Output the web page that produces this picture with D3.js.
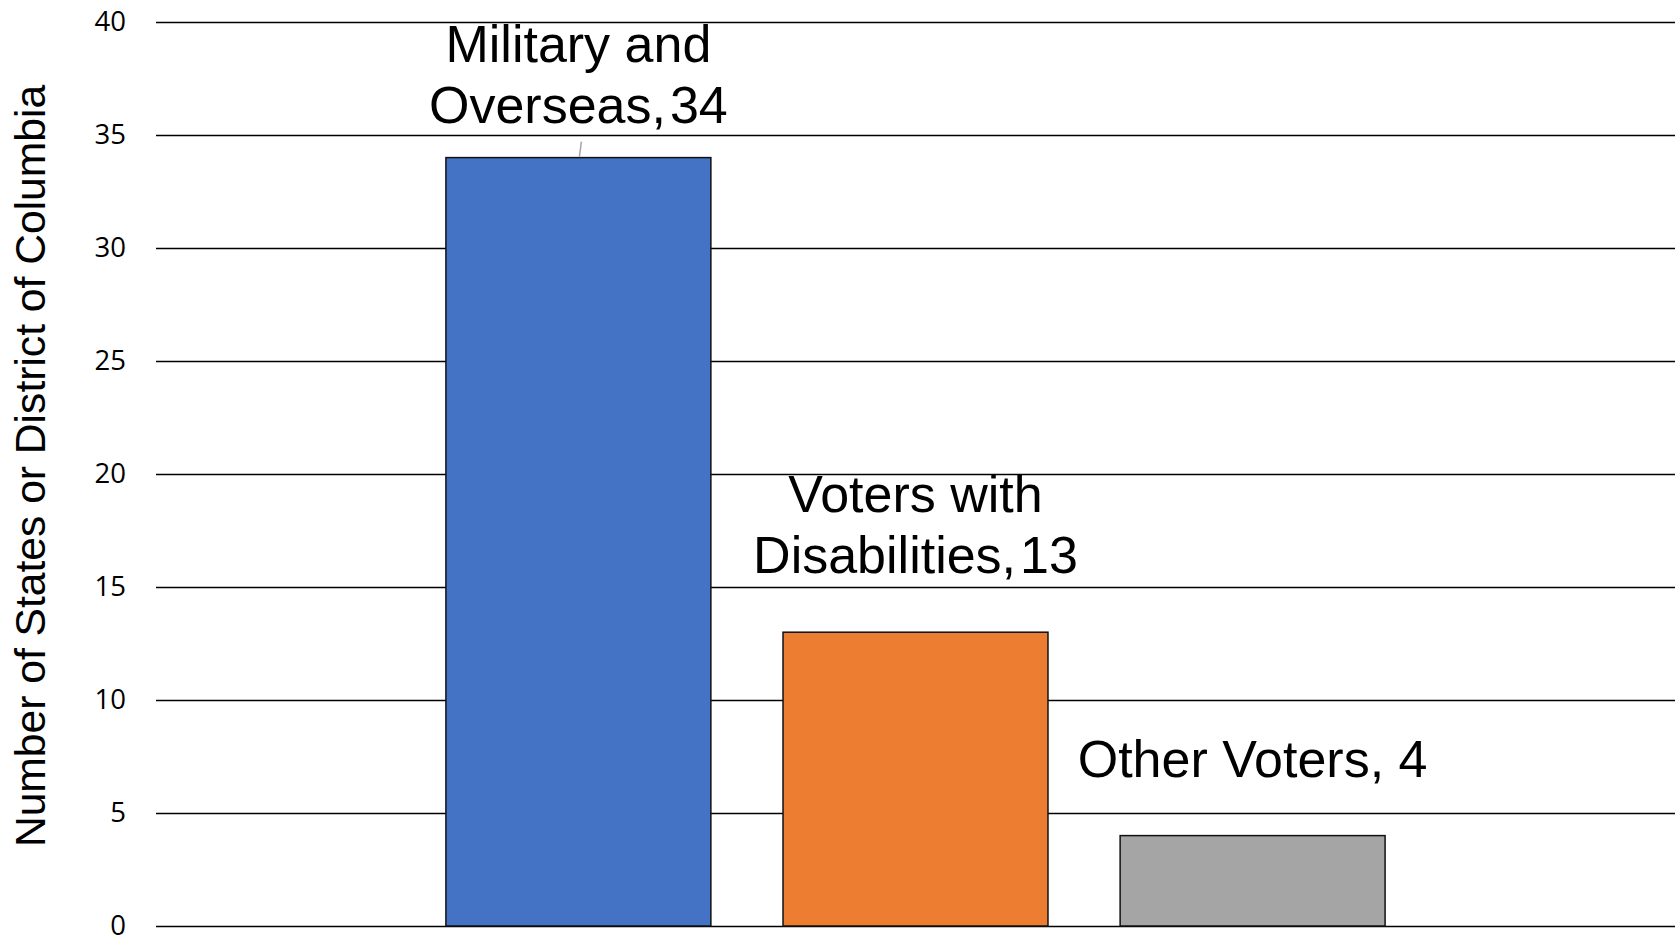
<!DOCTYPE html>
<html lang="en">
<head>
<meta charset="UTF-8">
<title>Number of States or District of Columbia</title>
<script src="https://d3js.org/d3.v7.min.js"></script>
<style>
  body { margin: 0; padding: 0; background: #fff; }
  svg { display: block; }
</style>
</head>
<body>
<div id="chart"></div>
<script>
// Data
const categories = ["Military and Overseas", "Voters with Disabilities", "Other Voters"];
const values = [34, 13, 4];
const labelLines = [["Military and", "Overseas,", "34"], ["Voters with", "Disabilities,", "13"], [null, "Other Voters,", " 4"]];
const colors = ["#4472C4", "#ED7D31", "#A5A5A5"];
const yTicks = [0, 5, 10, 15, 20, 25, 30, 35, 40];
const yTitle = "Number of States or District of Columbia";

// Layout: pixel gap between bar top and label baseline
const labelLift = [35, 59, 59];

const width = 1679, height = 937;
const margin = { top: 22, right: 4, bottom: 11, left: 156 };

const svg = d3.select("#chart").append("svg")
  .attr("width", width)
  .attr("height", height);

const x = d3.scaleBand()
  .domain(categories)
  .range([margin.left, width - margin.right])
  .paddingInner(0.214)
  .paddingOuter(0.86);

const y = d3.scaleLinear()
  .domain([0, 40])
  .range([height - margin.bottom, margin.top]);

// Gridlines + tick labels
const yAxis = d3.axisLeft(y)
  .tickValues(yTicks)
  .tickSize(-(width - margin.right - margin.left))
  .tickPadding(30)
  .tickFormat(d3.format("d"));

const ga = svg.append("g")
  .attr("transform", `translate(${margin.left},0)`)
  .call(yAxis);
ga.select(".domain").remove();
ga.selectAll(".tick line").attr("stroke", "#000").attr("stroke-width", 1.5);
ga.selectAll(".tick text")
  .attr("font-family", "'Open Sans', sans-serif")
  .attr("font-size", 27.5)
  .attr("fill", "#000");

// Axis title
svg.append("text")
  .attr("transform", `translate(45,466) rotate(-90)`)
  .attr("text-anchor", "middle")
  .attr("font-family", "'Liberation Sans', Arial, sans-serif")
  .attr("font-size", 42.6)
  .attr("fill", "#000")
  .text(yTitle);

// Bars
svg.selectAll("rect.bar")
  .data(categories)
  .enter()
  .append("rect")
  .attr("class", "bar")
  .attr("x", d => x(d))
  .attr("y", (d, i) => y(values[i]))
  .attr("width", x.bandwidth())
  .attr("height", (d, i) => y(0) - y(values[i]))
  .attr("fill", (d, i) => colors[i])
  .attr("stroke", "#111")
  .attr("stroke-width", 1.5);

// Leader line for first label
svg.append("line")
  .attr("x1", x(categories[0]) + x.bandwidth() / 2 + 3)
  .attr("y1", y(values[0]) - 16)
  .attr("x2", x(categories[0]) + x.bandwidth() / 2 + 1)
  .attr("y2", y(values[0]) - 1)
  .attr("stroke", "#A5A5A5")
  .attr("stroke-width", 1.5);

// Data labels
categories.forEach((c, i) => {
  const cx = x(c) + x.bandwidth() / 2;
  const base = y(values[i]) - labelLift[i];
  const lines = labelLines[i];
  const t = svg.append("text")
    .attr("text-anchor", "middle")
    .attr("font-family", "'Liberation Sans', Arial, sans-serif")
    .attr("font-size", 52)
    .attr("fill", "#000");
  if (lines[0]) {
    t.append("tspan").attr("x", cx).attr("y", base - 61).text(lines[0]);
  }
  const last = t.append("tspan").attr("x", cx).attr("y", base);
  last.append("tspan").text(lines[1]);
  last.append("tspan").attr("dx", lines[0] ? 4 : 0).text(lines[2]);
});
</script>
</body>
</html>
